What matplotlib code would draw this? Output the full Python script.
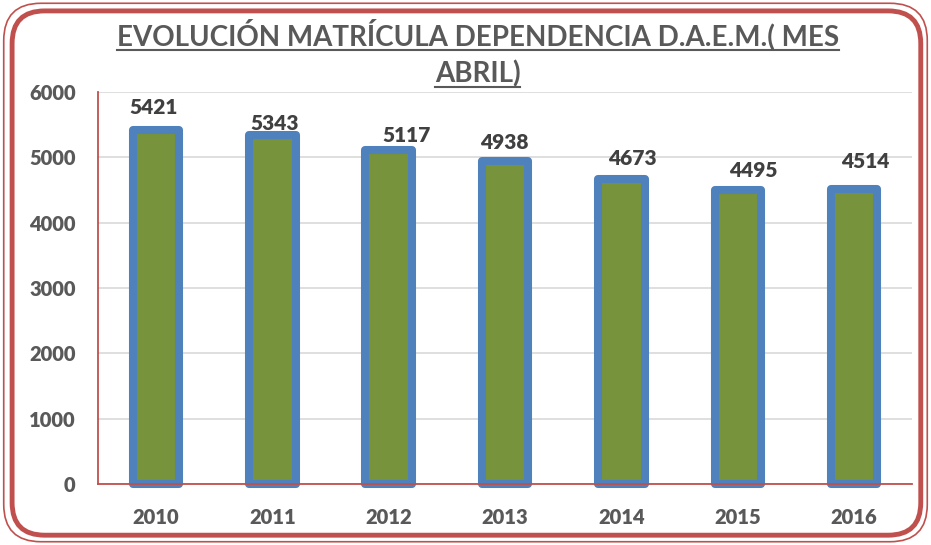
import matplotlib.pyplot as plt
from matplotlib.patches import FancyBboxPatch
from matplotlib.lines import Line2D

# data
years = ['2010', '2011', '2012', '2013', '2014', '2015', '2016']
matricula = [5421, 5343, 5117, 4938, 4673, 4495, 4514]
yticks = [0, 1000, 2000, 3000, 4000, 5000, 6000]

# label nudges (points) - labels were hand-placed in the original
label_dx = [-1.5, 2, 13, -0.5, 8, 11.5, 8]
label_dy = [9.5, 1.5, 3.6, 6.5, 8, 7.2, 13]

red = '#c0504d'
blue = '#4f81bd'
green = '#77933c'
gray = '#595959'
font = 'Lato'

fig = plt.figure(figsize=(9.31, 5.45), dpi=100)
ax = fig.add_axes([0.105, 0.112, 0.875, 0.719])

x = range(len(years))
ax.bar(x, matricula, width=0.40, color=green, edgecolor=blue, linewidth=5.8,
       joinstyle='round', clip_on=False, zorder=3)

for xi, v, dx, dy in zip(x, matricula, label_dx, label_dy):
    ax.annotate(str(v), (xi, v), xytext=(dx, dy), textcoords='offset points',
                ha='center', va='bottom', fontsize=15, fontweight='heavy',
                color='#404040', family=font, zorder=5)

ax.set_xlim(-0.5, len(years) - 0.5)
ax.set_ylim(0, 6000)
ax.set_yticks(yticks)
ax.set_xticks(list(x))
ax.set_xticklabels(years)
ax.grid(axis='y', color='#d9d9d9', linewidth=1.2, zorder=0)
ax.set_axisbelow(True)

for side in ['top', 'right']:
    ax.spines[side].set_visible(False)
for side in ['left', 'bottom']:
    ax.spines[side].set_color(red)
    ax.spines[side].set_linewidth(1.3)
ax.spines['bottom'].set_zorder(4)

ax.tick_params(axis='both', length=0, labelsize=14.5, labelcolor=gray)
ax.tick_params(axis='y', pad=16)
ax.tick_params(axis='x', pad=17)
for lbl in ax.get_xticklabels() + ax.get_yticklabels():
    lbl.set_fontweight('heavy')
    lbl.set_family(font)

# title with underline
t1 = fig.text(0.513, 0.917, 'EVOLUCIÓN MATRÍCULA DEPENDENCIA D.A.E.M.( MES',
              ha='center', va='baseline', fontsize=20, fontweight='bold',
              color=gray, family=font)
t2 = fig.text(0.513, 0.849, 'ABRIL)', ha='center', va='baseline', fontsize=20,
              fontweight='bold', color=gray, family=font)
fig.canvas.draw()
r = fig.canvas.get_renderer()
for t in (t1, t2):
    bb = t.get_window_extent(r).transformed(fig.transFigure.inverted())
    yb = t.get_position()[1] - 0.009
    fig.add_artist(Line2D([bb.x0, bb.x1], [yb, yb], color=gray, linewidth=1.5,
                          transform=fig.transFigure))

# double red rounded frame
outer = FancyBboxPatch((0.004, 0.006), 0.992, 0.988,
                       boxstyle='round,pad=0,rounding_size=0.04',
                       transform=fig.transFigure, fill=False, edgecolor=red,
                       linewidth=1.2, mutation_aspect=931 / 545)
inner = FancyBboxPatch((0.013, 0.018), 0.976, 0.962,
                       boxstyle='round,pad=0,rounding_size=0.035',
                       transform=fig.transFigure, fill=False, edgecolor=red,
                       linewidth=3.5, mutation_aspect=931 / 545)
fig.add_artist(outer)
fig.add_artist(inner)

fig.savefig('out.png', dpi=100)
